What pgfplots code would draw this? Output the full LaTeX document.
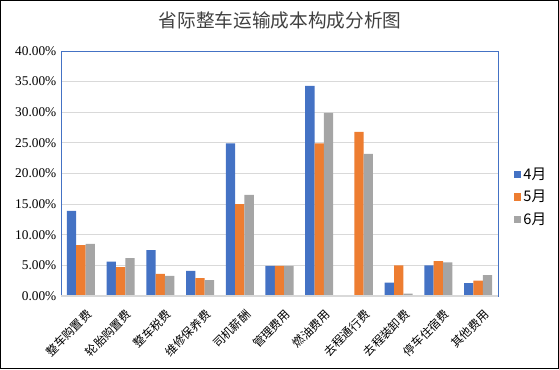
\documentclass[border=0pt]{standalone}
\usepackage{pgfplots}
\pgfplotsset{compat=1.18}
\usepackage{fontspec}
\setmainfont{Liberation Serif}
\newfontfamily\cjk{Noto Sans CJK SC}
\definecolor{cblue}{HTML}{4472C4}
\definecolor{corange}{HTML}{ED7D31}
\definecolor{cgray}{HTML}{A5A5A5}
\definecolor{gridc}{HTML}{D9D9D9}
\begin{document}
\begin{tikzpicture}
\useasboundingbox (-45.75pt,-54.75pt) rectangle (373.5pt,222pt);
\draw[black, line width=1pt] (-45.25pt,-54.25pt) rectangle (373pt,221.5pt);
\node[font=\cjk\fontsize{14}{16}\selectfont, text=black!75] at (164.25pt,207pt) {省际整车运输成本构成分析图};
\begin{axis}[
  at={(0,0)}, anchor=south west,
  scale only axis,
  width=327.75pt, height=183.75pt,
  xmin=-0.5, xmax=10.5, ymin=0, ymax=40,
  xtick={0,...,10},
  xticklabels={整车购置费,轮胎购置费,整车税费,维修保养费,司机薪酬,管理费用,燃油费用,去程通行费,去程装卸费,停车住宿费,其他费用},
  x tick label style={font=\cjk\fontsize{8.8}{10}\selectfont, rotate=45, anchor=north east, inner sep=1pt, yshift=-8pt, xshift=-3pt},
  ytick={0,5,...,40},
  yticklabel={\pgfmathprintnumber[fixed,fixed zerofill,precision=2]{\tick}\%},
  y tick label style={font=\fontsize{10}{12}\selectfont, /pgf/number format/assume math mode=true},
  major tick length=0pt,
  ymajorgrids, grid style={gridc, line width=0.6pt},
  axis line style={cblue, line width=0.6pt},
  bar width=0.235,
  legend style={at={(1.035,0.404)}, anchor=west, draw=none, fill=none,
    font=\cjk\fontsize{11}{13}\selectfont, row sep=2.5pt, inner sep=0pt},
  legend cell align=left,
  legend image code/.code={\fill[#1] (0pt,-2.7pt) rectangle (5.4pt,2.7pt);},
  after end axis/.code={\draw[gridc, line width=0.8pt] (rel axis cs:0,0) -- (rel axis cs:1,0);},
]
\addplot[ybar, bar shift=-0.235, fill=cblue, draw=none] coordinates {
(0,13.9) (1,5.6) (2,7.5) (3,4.1) (4,24.9) (5,4.9) (6,34.3) (7,0) (8,2.2) (9,5.0) (10,2.1)};
\addplot[ybar, bar shift=0, fill=corange, draw=none] coordinates {
(0,8.3) (1,4.7) (2,3.6) (3,2.9) (4,15.0) (5,4.9) (6,24.9) (7,26.8) (8,5.0) (9,5.7) (10,2.5)};
\addplot[ybar, bar shift=0.235, fill=cgray, draw=none] coordinates {
(0,8.5) (1,6.2) (2,3.3) (3,2.6) (4,16.5) (5,4.9) (6,29.9) (7,23.2) (8,0.4) (9,5.5) (10,3.4)};
\legend{4月,5月,6月}
\end{axis}
\end{tikzpicture}
\end{document}
